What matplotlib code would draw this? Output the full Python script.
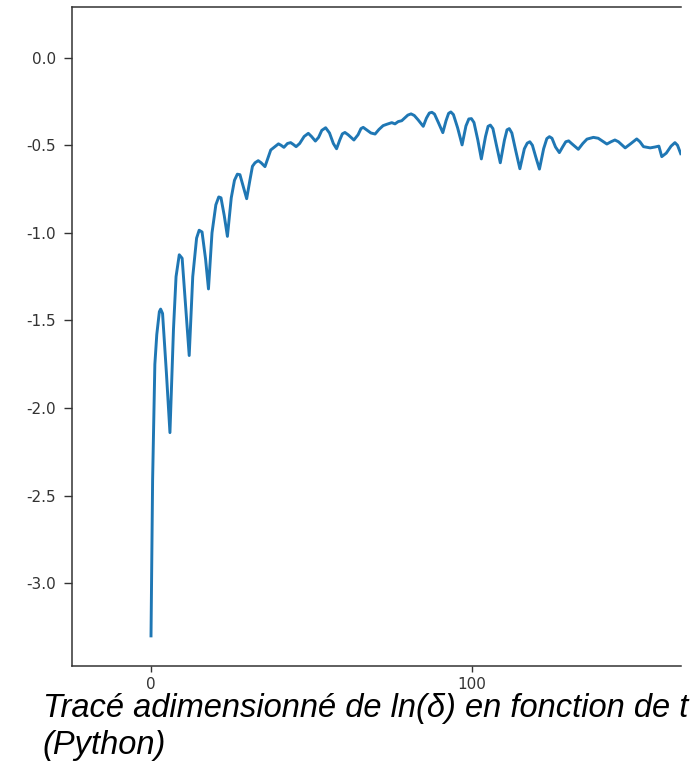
import numpy as np
import matplotlib
matplotlib.use("Agg")
import matplotlib.pyplot as plt

# Données (t adimensionné, ln(delta))
t_vals = [
    0, 0.5, 1.2, 1.8, 2.6, 3.0, 3.6, 4.8, 5.9, 7.0, 7.8, 8.8, 9.7, 10.8, 11.9,
    13.0, 14.2, 15.0, 15.9, 17.0, 17.9, 19.0, 20.2, 21.1, 21.8, 22.8, 23.8,
    25.0, 26.0, 26.9, 27.7, 28.8, 29.8, 30.8, 31.6, 32.4, 33.4, 34.3, 35.5,
    36.3, 37.3, 38.6, 39.7, 40.5, 41.4, 42.5, 43.5, 44.3, 45.2, 46.3, 47.7,
    49.0, 50.0, 51.2, 52.2, 53.2, 54.4, 55.6, 56.8, 57.8, 58.8, 59.6, 60.4,
    61.4, 63.2, 64.5, 65.4, 66.1, 67.0, 68.5, 69.8, 71.0, 72.3, 73.5, 75.0,
    76.0, 77.0, 78.1, 79.0, 80.0, 81.0, 82.0, 83.2, 84.8, 85.8, 86.7, 87.5,
    88.3, 89.5, 90.9, 91.9, 92.7, 93.4, 94.2, 95.5, 96.9, 98.1, 99.0, 99.8,
    100.6, 101.8, 102.9, 104.2, 105.0, 105.7, 106.5, 107.6, 108.8, 110.1,
    110.9, 111.6, 112.4, 113.6, 114.9, 116.3, 117.2, 118.0, 118.8, 119.9,
    121.0, 122.3, 123.3, 124.1, 124.9, 126.0, 127.2, 128.2, 129.2, 130.1,
    131.0, 133.1, 134.5, 135.8, 137.8, 139.3, 142.0, 143.3, 144.5, 145.6,
    147.7, 149.5, 151.3, 152.3, 153.4, 155.5, 157.0, 158.2, 159.1, 160.5,
    162.0, 163.2, 164.0, 165.0,
]
ln_delta = [
    -3.30, -2.41, -1.75, -1.58, -1.45, -1.435, -1.46, -1.80, -2.14, -1.55,
    -1.25, -1.125, -1.145, -1.42, -1.70, -1.25, -1.03, -0.985, -0.995, -1.15,
    -1.32, -1.00, -0.84, -0.795, -0.80, -0.90, -1.02, -0.80, -0.70, -0.665,
    -0.668, -0.74, -0.805, -0.70, -0.62, -0.60, -0.588, -0.60, -0.622, -0.58,
    -0.527, -0.508, -0.492, -0.50, -0.512, -0.49, -0.485, -0.495, -0.508,
    -0.49, -0.45, -0.432, -0.45, -0.476, -0.455, -0.415, -0.400, -0.43,
    -0.49, -0.520, -0.47, -0.435, -0.427, -0.44, -0.470, -0.44, -0.405,
    -0.398, -0.41, -0.43, -0.436, -0.41, -0.388, -0.38, -0.371, -0.378,
    -0.365, -0.360, -0.345, -0.328, -0.321, -0.33, -0.355, -0.392, -0.345,
    -0.316, -0.312, -0.322, -0.37, -0.428, -0.36, -0.318, -0.310, -0.325,
    -0.40, -0.498, -0.39, -0.35, -0.348, -0.37, -0.47, -0.578, -0.45,
    -0.392, -0.385, -0.405, -0.50, -0.600, -0.47, -0.412, -0.405, -0.43,
    -0.53, -0.634, -0.52, -0.488, -0.480, -0.50, -0.57, -0.636, -0.52,
    -0.462, -0.451, -0.46, -0.51, -0.542, -0.51, -0.48, -0.475, -0.49,
    -0.523, -0.49, -0.465, -0.455, -0.46, -0.493, -0.48, -0.470, -0.48,
    -0.515, -0.49, -0.464, -0.48, -0.508, -0.515, -0.51, -0.505, -0.565,
    -0.545, -0.505, -0.485, -0.50, -0.548,
]
x_ticks = [0, 100]
y_ticks = [0.0, -0.5, -1.0, -1.5, -2.0, -2.5, -3.0]
caption_1 = "Tracé adimensionné de ln(δ) en fonction de t"
caption_2 = "(Python)"

plt.rcParams['axes.unicode_minus'] = False

fig = plt.figure(figsize=(7.0, 7.64), dpi=100)
fig.patch.set_facecolor('white')
ax = fig.add_axes([0.1029, 0.1287, 0.870, 0.8626])

ax.plot(t_vals, ln_delta, color='#1f77b4', linewidth=2.1)

ax.set_xlim(-24.6, 165.1)
ax.set_ylim(-3.47, 0.291)
ax.set_xticks(x_ticks)
ax.set_yticks(y_ticks)
ax.set_yticklabels([f'{v:.1f}' for v in y_ticks])

ax.spines['right'].set_visible(False)
for s in ['left', 'top', 'bottom']:
    ax.spines[s].set_color('#333333')
    ax.spines[s].set_linewidth(1.1)
ax.tick_params(axis='y', length=5.5, width=1.0, pad=6, labelsize=11,
               colors='#333333')
ax.tick_params(axis='x', length=4.0, width=1.0, pad=4, labelsize=11,
               colors='#333333')

# Légende sous la figure
fig.text(0.061, 0.0615, caption_1, family='Liberation Sans', style='italic',
         fontsize=23.5, ha='left', va='baseline', color='black')
fig.text(0.061, 0.0125, caption_2, family='Liberation Sans', style='italic',
         fontsize=23.5, ha='left', va='baseline', color='black')

plt.savefig('out.png', dpi=100, facecolor='white')
plt.close()
